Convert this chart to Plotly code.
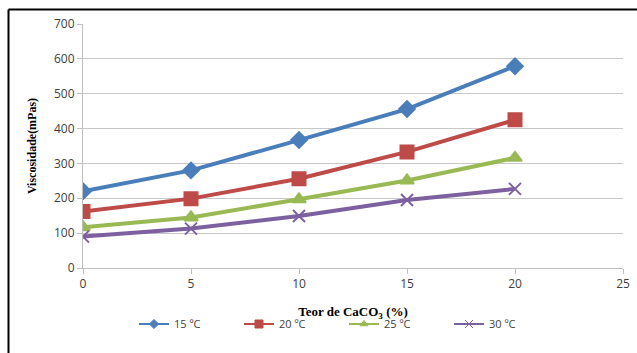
import plotly.graph_objects as go

teor = [0, 5, 10, 15, 20]
v15 = [220, 280, 367, 456, 579]
v20 = [162, 199, 256, 333, 425]
v25 = [117, 145, 197, 251, 316]
v30 = [90, 113, 149, 195, 227]
names = ["15 ºC", "20 ºC", "25 ºC", "30 ºC"]
colors = ["#4A7EBB", "#BE4B48", "#98B954", "#7D60A0"]
symbols = ["diamond", "square", "triangle-up", "x-thin-open"]
sizes = [12, 13, 12, 12]
legend_sizes = [7, 8, 7, 8]

fig = go.Figure()
for vals, nm, col, sym, sz in zip([v15, v20, v25, v30], names, colors, symbols, sizes):
    fig.add_trace(go.Scatter(
        x=teor, y=vals, name=nm, mode="lines+markers", showlegend=False,
        line=dict(color=col, width=4),
        marker=dict(symbol=sym, size=sz, color=col, line=dict(color=col, width=2)),
    ))
# legend-only entries with small markers like the original
for nm, col, sym, sz in zip(names, colors, symbols, legend_sizes):
    fig.add_trace(go.Scatter(
        x=[None], y=[None], name=nm, mode="lines+markers", showlegend=True,
        line=dict(color=col, width=2),
        marker=dict(symbol=sym, size=sz, color=col, line=dict(color=col, width=1)),
    ))

W, H = 637, 353
ml, mr, mt, mb = 83, 14, 24, 85
pw, ph = W - ml - mr, H - mt - mb

def px_x(p):
    return (p - ml) / pw

def px_y(p):
    return (H - mb - p) / ph

fig.update_layout(
    width=W, height=H,
    margin=dict(l=ml, r=mr, t=mt, b=mb, autoexpand=False),
    paper_bgcolor="white", plot_bgcolor="white",
    font=dict(family="Open Sans, DejaVu Sans, sans-serif", size=11, color="#404040"),
    showlegend=True,
    legend=dict(orientation="h", x=px_x(134), xanchor="left", y=px_y(324), yanchor="middle",
                font=dict(size=11, color="#404040"), entrywidth=60, entrywidthmode="pixels",
                itemwidth=30, bgcolor="rgba(0,0,0,0)"),
    xaxis=dict(range=[0, 25], tickvals=[0, 5, 10, 15, 20, 25], showgrid=False,
               showline=True, linecolor="#BFBFBF", linewidth=1,
               ticks="outside", ticklen=5, tickcolor="#BFBFBF", zeroline=False,
               tickfont=dict(size=12, color="#404040"),
               title=dict(text="<b>Teor de CaCO<sub>3</sub> (%)</b>",
                          font=dict(family="Liberation Serif, Times New Roman, serif", size=13, color="#000000"),
                          standoff=15)),
    yaxis=dict(range=[0, 700], tickvals=list(range(0, 701, 100)), showgrid=True,
               gridcolor="#C8C8C8", gridwidth=1,
               showline=True, linecolor="#BFBFBF", linewidth=1,
               ticks="outside", ticklen=5, tickcolor="#BFBFBF", zeroline=False,
               tickfont=dict(size=12, color="#404040"),
               title=dict(text="<b>Viscosidade(mPas)</b>",
                          font=dict(family="Liberation Serif, Times New Roman, serif", size=12, color="#000000"),
                          standoff=14)),
)

# outer frame lines (top and left) as in the source picture
fig.add_shape(type="line", xref="paper", yref="paper",
              x0=px_x(8.5), x1=px_x(W + 5), y0=px_y(9.5), y1=px_y(9.5),
              line=dict(color="black", width=2))
fig.add_shape(type="line", xref="paper", yref="paper",
              x0=px_x(8.5), x1=px_x(8.5), y0=px_y(9.5), y1=px_y(H + 5),
              line=dict(color="black", width=2))

fig.write_html("out.html")
